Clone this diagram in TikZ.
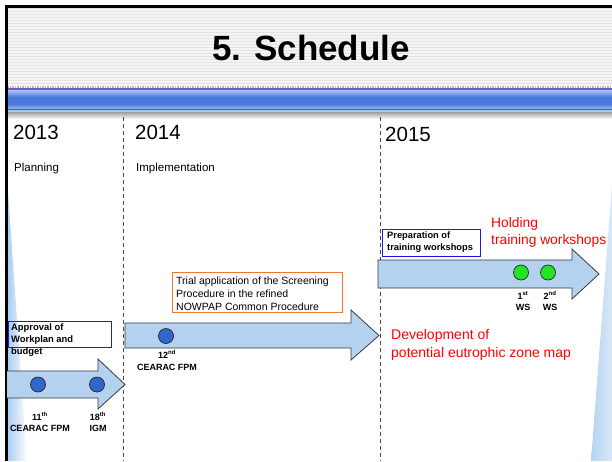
\documentclass[tikz,border=0pt]{standalone}
\usepackage{fontspec}
\setmainfont{Liberation Sans}
\definecolor{arrowblue}{HTML}{B4D2F0}
\definecolor{arrowedge}{HTML}{3A3A3A}
\definecolor{dotblue}{HTML}{3366CC}
\definecolor{dotgreen}{HTML}{22E622}
\definecolor{framblue}{HTML}{1A1AE6}
\definecolor{framorange}{HTML}{F07828}
\definecolor{sepgrey}{HTML}{4A4A4A}
\definecolor{stripeA}{HTML}{F4F4F4}
\definecolor{stripeB}{HTML}{E4E4E4}
\definecolor{bandpurple}{HTML}{7458C8}
\definecolor{bandlight}{HTML}{A8CAF2}
\definecolor{bandmid}{HTML}{4C7ADA}
\definecolor{banddark}{HTML}{2F5CC8}
\definecolor{slideblue}{HTML}{A8CBF0}
\tikzset{
  blockarrow/.style={fill=arrowblue, draw=arrowedge, line width=0.8pt, line join=miter},
  milestone/.style={circle, draw=black!85, line width=0.7pt, minimum size=15pt, inner sep=0pt},
  bluedot/.style={milestone, fill=dotblue},
  greendot/.style={milestone, fill=dotgreen},
  notebox/.style={rectangle, draw, line width=1.1pt, inner sep=0pt, anchor=north west},
  % multi-line texts below are placed by the baseline of their last line
  boxtext/.style={inner sep=0pt, anchor=base west, align=left},
  mslabel/.style={inner sep=0pt, anchor=base, align=center, font=\bfseries\fontsize{9}{11.5}\selectfont},
  redtext/.style={inner sep=0pt, anchor=base west, align=left, text=red},
  yeartext/.style={inner sep=0pt, anchor=base west, font=\fontsize{20.5}{24}\selectfont},
  phasetext/.style={inner sep=0pt, anchor=base west, font=\fontsize{11.5}{14}\selectfont},
  yearsep/.style={draw=sepgrey, line width=0.9pt, dash pattern=on 4pt off 3pt},
}
\begin{document}
\begin{tikzpicture}[x=1pt, y=-1pt]
\useasboundingbox (0,0) rectangle (612,461);
\fill[white] (0,0) rectangle (612,461);

% header: striped title area
\fill[stripeA] (7,7) rectangle (612,86);
\foreach \k in {0,...,25} {
  \fill[stripeB] (7,{8+3*\k}) rectangle (612,{9.3+3*\k});
}
% ornamental band under the title
\draw[gray!55, line width=1.2pt, dash pattern=on 1.5pt off 1pt] (7,87) -- (612,87);
\fill[bandpurple] (7,88.3) rectangle (612,90);
\shade[top color=bandlight, bottom color=bandmid] (7,90) rectangle (612,97);
\fill[bandmid] (7,97) rectangle (612,104);
\shade[top color=bandmid, bottom color=bandlight!80!bandmid] (7,104) rectangle (612,108.5);
\fill[banddark] (7,108.5) rectangle (612,110);
\fill[bandlight] (7,110) rectangle (612,112);
\shade[top color=gray!75, bottom color=white] (7,112) rectangle (612,119);

% side slivers
\shade[left color=slideblue, right color=white] (7,178) -- (7,461) -- (27,461) -- cycle;
\shade[left color=slideblue!85, right color=slideblue!45] (612,185) -- (591,461) -- (612,461) -- cycle;

% slide frame
\fill[black] (5,5) rectangle (612,7.5);
\fill[black] (5,5) rectangle (7.5,461);

% title
\node[inner sep=0pt, anchor=base, font=\bfseries\fontsize{35}{40}\selectfont] (title) at (311,60) {5. Schedule};

% year separators
\coordinate (sepA top) at (123,117);
\coordinate (sepA bot) at (123,461);
\coordinate (sepB top) at (380,117);
\coordinate (sepB bot) at (380,461);
\draw[yearsep] (sepA top) -- (sepA bot);
\draw[yearsep] (sepB top) -- (sepB bot);

% years and phases
\node[yeartext] (y2013) at (13,139) {2013};
\node[yeartext] (y2014) at (135,139) {2014};
\node[yeartext] (y2015) at (385,141) {2015};
\node[phasetext] (planning) at (14,171) {Planning};
\node[phasetext] (implementation) at (136,171) {Implementation};

% block arrows
\draw[blockarrow] (7,371) -- (98,371) -- (98,359) -- (125,384.5) -- (98,409) -- (98,398) -- (7,398);
\draw[blockarrow] (125,323) -- (351,323) -- (351,310) -- (379,335.5) -- (351,360) -- (351,348) -- (125,348) -- cycle;
\draw[blockarrow] (378,260) -- (572,260) -- (572,249) -- (599,274) -- (572,299) -- (572,288) -- (378,288) -- cycle;

% milestones
\node[bluedot] (fpm11) at (38,384.5) {};
\node[bluedot] (igm18) at (97,384.5) {};
\node[bluedot] (fpm12) at (166,336) {};
\node[greendot] (ws1) at (521,272.5) {};
\node[greendot] (ws2) at (548,272.5) {};

\node[mslabel] (fpm11lbl) at (40,431.5) {11\textsuperscript{th}\\CEARAC FPM};
\node[mslabel] (igm18lbl) at (98,431.5) {18\textsuperscript{th}\\IGM};
\node[mslabel] (fpm12lbl) at (167,370) {12\textsuperscript{nd}\\CEARAC FPM};
\node[mslabel] (ws1lbl) at (523,310.5) {1\textsuperscript{st}\\WS};
\node[mslabel] (ws2lbl) at (550,310.5) {2\textsuperscript{nd}\\WS};

% framed notes
\node[notebox, draw=framblue, minimum width=103pt, minimum height=26pt] (apprbox) at (8,321) {};
\node[boxtext, font=\bfseries\fontsize{9.4}{12}\selectfont] (apprtext) at (11,354) {Approval of\\Workplan and\\budget};
\node[notebox, draw=framorange, minimum width=170pt, minimum height=40pt] (trialbox) at (172,272) {};
\node[boxtext, font=\fontsize{10.5}{13}\selectfont] (trialtext) at (176,310) {Trial application of the Screening\\Procedure in the refined\\NOWPAP Common Procedure};
\node[notebox, draw=framblue, minimum width=98pt, minimum height=27pt] (prepbox) at (382,228.5) {};
\node[boxtext, font=\bfseries\fontsize{9.3}{12}\selectfont] (preptext) at (387,250) {Preparation of\\training workshops};

% outcomes
\node[redtext, font=\fontsize{13.8}{17}\selectfont] (holding) at (491,244) {Holding\\training workshops};
\node[redtext, font=\fontsize{14}{18}\selectfont] (devmap) at (391,357) {Development of\\potential eutrophic zone map};
\end{tikzpicture}
\end{document}
